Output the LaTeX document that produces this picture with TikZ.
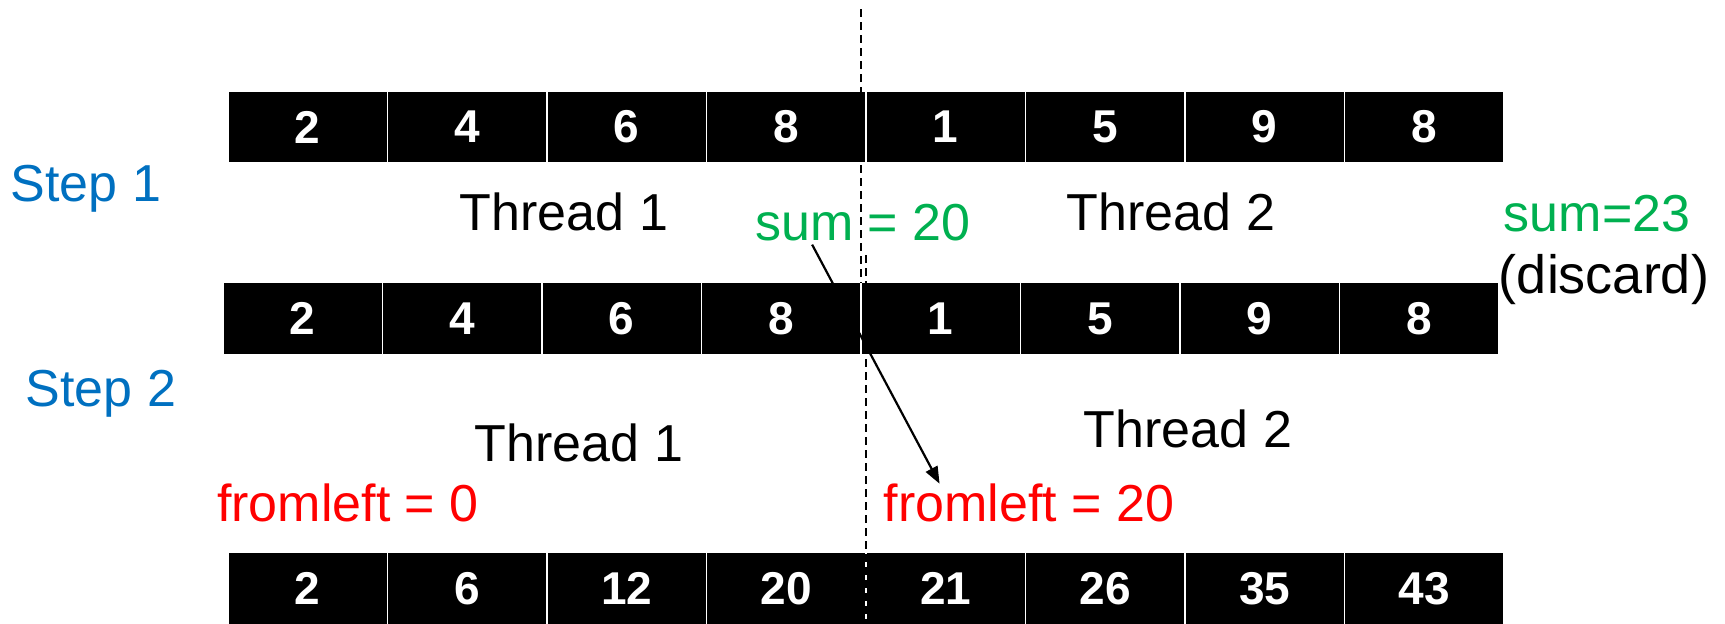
\documentclass[tikz,border=0pt]{standalone}
\usepackage{fontspec}
\setmainfont{Liberation Sans}
\usetikzlibrary{arrows.meta}
\definecolor{stepblue}{RGB}{0,112,192}
\definecolor{sumgreen}{RGB}{0,176,80}

\begin{document}
\begin{tikzpicture}[x=1pt,y=-1pt,
    cell/.style={fill=black,draw=white,line width=1.5pt,minimum width=159.5pt,
      minimum height=72pt,inner sep=0pt,text=white,
      font=\fontsize{46}{46}\selectfont\bfseries},
    lbl/.style={inner sep=0pt,font=\fontsize{52}{60}\selectfont},
    sepline/.style={line width=1.5pt,dash pattern=on 8pt off 5pt}]
    \useasboundingbox (0,0) rectangle (1725,624);

    % Rows of the array
    \foreach \v [count=\i] in {2,4,6,8,1,5,9,8}
      \node[cell] (a\i) at ({228+(\i-0.5)*159.5},127) {\v};
    \foreach \v [count=\i] in {2,4,6,8,1,5,9,8}
      \node[cell] (b\i) at ({223+(\i-0.5)*159.5},318.5) {\v};
    \foreach \v [count=\i] in {2,6,12,20,21,26,35,43}
      \node[cell] (c\i) at ({228+(\i-0.5)*159.5},588.5) {\v};

    % Split between the threads
    \draw[sepline] (861,9) -- (861,283);
    \draw[sepline] (866,255) -- (866,624);

    % Step 1
    \node[lbl,text=stepblue] (step1) at (86,189) {Step 1};
    \node[lbl] (th1a) at (564,212) {Thread 1};
    \node[lbl] (th2a) at (1171,212) {Thread 2};
    \node[lbl,text=sumgreen] (sum20) at (863,223) {sum = 20};
    \node[lbl,text=sumgreen] (sum23) at (1597,214) {sum=23};
    \node[lbl,font=\fontsize{54}{60}\selectfont] (discard) at (1604,280) {(discard)};

    % Step 2
    \node[lbl,text=stepblue] (step2) at (101,394) {Step 2};
    \node[lbl] (th1b) at (579,443) {Thread 1};
    \node[lbl] (th2b) at (1188,429) {Thread 2};
    \node[lbl,text=red] (fl0) at (348,503) {fromleft = 0};
    \node[lbl,text=red] (fl20) at (1029,503) {fromleft = 20};

    % sum of thread 1 passed on
    \draw[line width=2.2pt,-{Triangle[length=17pt,width=13pt]}]
      ([xshift=57pt,yshift=-3pt]sum20.south west) -- ([xshift=56pt]fl20.north west);

  \end{tikzpicture}
\end{document}
